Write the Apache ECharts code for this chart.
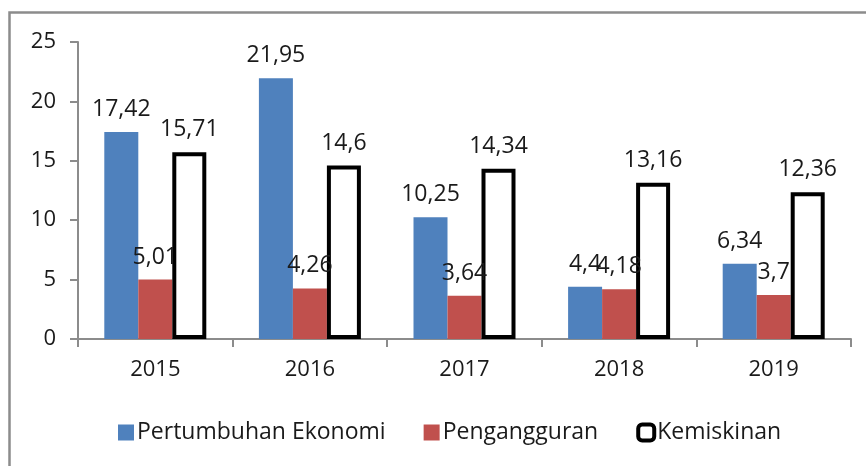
<!DOCTYPE html>
<html>
<head>
<meta charset="utf-8">
<script src="https://cdn.jsdelivr.net/npm/echarts@6/dist/echarts.min.js"></script>
<style>
  html, body { margin: 0; padding: 0; background: #fff; }
  #chart { width: 866px; height: 466px; }
</style>
</head>
<body>
<div id="chart"></div>
<script>
const years = ['2015', '2016', '2017', '2018', '2019'];
const ekonomi = [17.42, 21.95, 10.25, 4.4, 6.34];
const pengangguran = [5.01, 4.26, 3.64, 4.18, 3.7];
const kemiskinan = [15.71, 14.6, 14.34, 13.16, 12.36];

const FONT = 'Open Sans';
const chart = echarts.init(document.getElementById('chart'), null, { renderer: 'canvas' });

const labelFmt = (p) => String(p.value).replace('.', ',');
const barLabel = {
  show: true,
  position: 'top',
  distance: 11,
  color: '#1a1a1a',
  fontFamily: FONT,
  fontSize: 23,
  formatter: labelFmt
};

chart.setOption({
  animation: false,
  textStyle: { fontFamily: FONT },
  graphic: [{
    type: 'rect',
    shape: { x: 9.5, y: 12.5, width: 900, height: 500 },
    style: { fill: 'none', stroke: '#8c8c8c', lineWidth: 2.5 },
    silent: true
  }],
  grid: { left: 78, right: 15, top: 42, bottom: 127 },
  legend: {
    left: 113,
    top: 416,
    itemWidth: 16,
    itemHeight: 16,
    itemGap: 38,
    textStyle: { fontFamily: FONT, fontSize: 23, color: '#1a1a1a', padding: [0, 0, 0, -2] },
    data: [
      { name: 'Pertumbuhan Ekonomi', icon: 'rect' },
      { name: 'Pengangguran', icon: 'rect' },
      { name: 'Kemiskinan', icon: 'roundRect', itemStyle: { color: '#fff', borderColor: '#000', borderWidth: 4 } }
    ]
  },
  xAxis: {
    type: 'category',
    data: years,
    axisLine: { lineStyle: { color: '#8c8c8c', width: 2 } },
    axisTick: { show: true, length: 8, lineStyle: { color: '#8c8c8c', width: 2 } },
    axisLabel: { margin: 20, color: '#1a1a1a', fontFamily: FONT, fontSize: 22 }
  },
  yAxis: {
    type: 'value',
    min: 0,
    max: 25,
    interval: 5,
    splitLine: { show: false },
    axisLine: { show: true, lineStyle: { color: '#8c8c8c', width: 2 } },
    axisTick: { show: true, length: 8, lineStyle: { color: '#8c8c8c', width: 2 } },
    axisLabel: { margin: 22, color: '#1a1a1a', fontFamily: FONT, fontSize: 22 }
  },
  series: [
    {
      name: 'Pertumbuhan Ekonomi',
      type: 'bar',
      data: ekonomi,
      barWidth: 34,
      barGap: '0%',
      itemStyle: { color: '#4f81bd' },
      label: barLabel
    },
    {
      name: 'Pengangguran',
      type: 'bar',
      data: pengangguran,
      barWidth: 34,
      barGap: '0%',
      itemStyle: { color: '#c0504d' },
      label: barLabel
    },
    {
      name: 'Kemiskinan',
      type: 'bar',
      data: kemiskinan,
      barWidth: 34,
      barGap: '0%',
      itemStyle: { color: '#fff', borderColor: '#000', borderWidth: 4 },
      label: barLabel
    }
  ]
});
</script>
</body>
</html>
